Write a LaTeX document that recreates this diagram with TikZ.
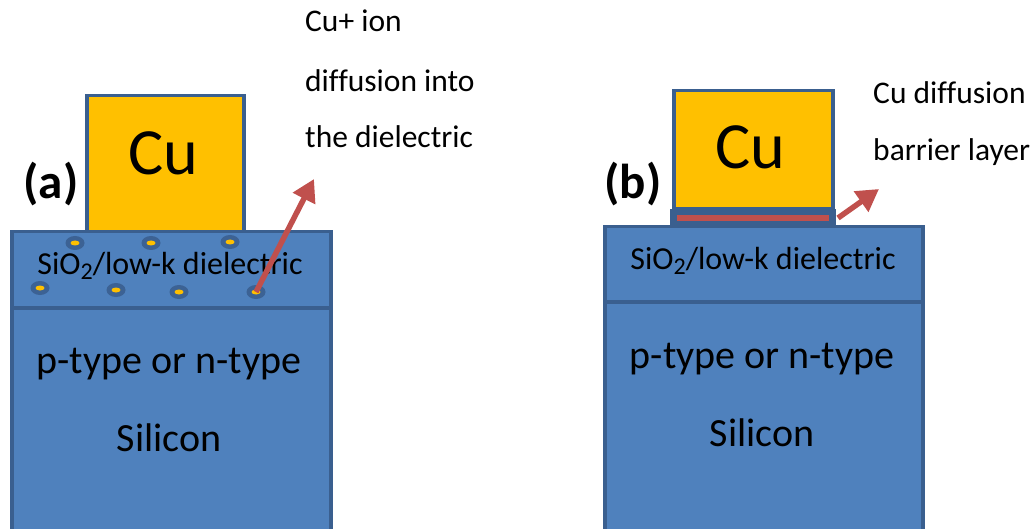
\documentclass[tikz,border=0pt]{standalone}
\usepackage{fontspec}
\setmainfont{Carlito}[Ligatures=NoCommon]
\usetikzlibrary{arrows.meta,shapes.geometric}
\definecolor{layerblue}{HTML}{4F81BD}
\definecolor{edgeblue}{HTML}{3A5F8F}
\definecolor{cuorange}{HTML}{FFC000}
\definecolor{arrowred}{HTML}{C0504D}
\newcommand{\lowtwo}{\raisebox{-0.18em}{\fontsize{24}{24}\selectfont 2}}
\tikzset{
  layer/.style={draw=edgeblue, fill=layerblue, line width=3.5pt, rectangle, inner sep=0pt, anchor=north west},
  cubox/.style={draw=edgeblue, fill=cuorange, line width=3.5pt, rectangle, inner sep=0pt, anchor=north west},
  cutext/.style={font=\fontsize{66}{66}\selectfont, inner sep=0pt},
  paneltag/.style={font=\fontsize{49}{49}\selectfont\bfseries, inner sep=0pt},
  dieltext/.style={font=\fontsize{32}{32}\selectfont, inner sep=0pt},
  sitext/.style={font=\fontsize{40}{40}\selectfont, inner sep=0pt},
  note/.style={font=\fontsize{31.5}{31.5}\selectfont, inner sep=0pt, anchor=base west},
  dotout/.style={ellipse, fill=edgeblue!90!layerblue, minimum width=19pt, minimum height=14pt, inner sep=0pt},
  dotin/.style={ellipse, fill=cuorange, minimum width=9pt, minimum height=5pt, inner sep=0pt},
  redarrow/.style={draw=arrowred, line width=5.5pt, -{Triangle[length=22pt,width=24pt]}},
}
\begin{document}
\begin{tikzpicture}[x=1pt,y=-1pt]
\clip (0,0) rectangle (1035,529);
\fill[white] (0,0) rectangle (1035,529);

% ---------- panel (a) ----------
\node[layer, minimum width=319pt, minimum height=240pt] (siA) at (10,306) {};
\node[layer, minimum width=319pt, minimum height=76pt] (dielA) at (10,230) {};
\node[cubox, minimum width=157pt, minimum height=136pt] (cuA) at (85,94) {};
\node[cutext] (cuAt) at (163,153) {Cu};
\node[paneltag] (tagA) at (51,184) {(a)};
\node[dieltext] (dielAt) at (170,266) {SiO\lowtwo/low-k dielectric};
\node[sitext] (siAt1) at (169,364) {p-type or n-type};
\node[sitext] (siAt2) at (169,438) {Silicon};

\foreach \n/\px/\py in {d1/75/243, d2/151/243, d3/230/242, d4/40/288, d5/116/290, d6/179/292, d7/256/292}{
  \node[dotout] (\n) at (\px,\py) {};
  \node[dotin] (\n i) at (\px,\py) {};
}
\coordinate (tipA) at (314,179);
\draw[redarrow] (d7.center) -- (tipA);

\node[note] (nA1) at (305,32) {Cu+ ion};
\node[note] (nA2) at (305,92) {diffusion into};
\node[note] (nA3) at (305,148) {the dielectric};

% ---------- panel (b) ----------
\node[layer, minimum width=318pt, minimum height=245pt] (siB) at (603,300) {};
\node[layer, minimum width=318pt, minimum height=75pt] (dielB) at (603,225) {};
\node[layer, fill=edgeblue, minimum width=162pt, minimum height=15pt] (barB) at (670,209) {};
\node[draw=none, fill=arrowred, minimum width=152pt, minimum height=6pt, inner sep=0pt] (redB) at (barB.center) {};
\node[cubox, minimum width=159pt, minimum height=118pt] (cuB) at (672,89) {};
\node[cutext] (cuBt) at (750,147) {Cu};
\node[paneltag] (tagB) at (633,184) {(b)};
\node[dieltext] (dielBt) at (763,261) {SiO\lowtwo/low-k dielectric};
\node[sitext] (siBt1) at (762,359) {p-type or n-type};
\node[sitext] (siBt2) at (762,433) {Silicon};

\coordinate (startB) at (838,218);
\coordinate (tipB) at (879,189);
\draw[redarrow] (startB) -- (tipB);

\node[note] (nB1) at (873,104) {Cu diffusion};
\node[note] (nB2) at (873,161) {barrier layer};
\end{tikzpicture}
\end{document}
